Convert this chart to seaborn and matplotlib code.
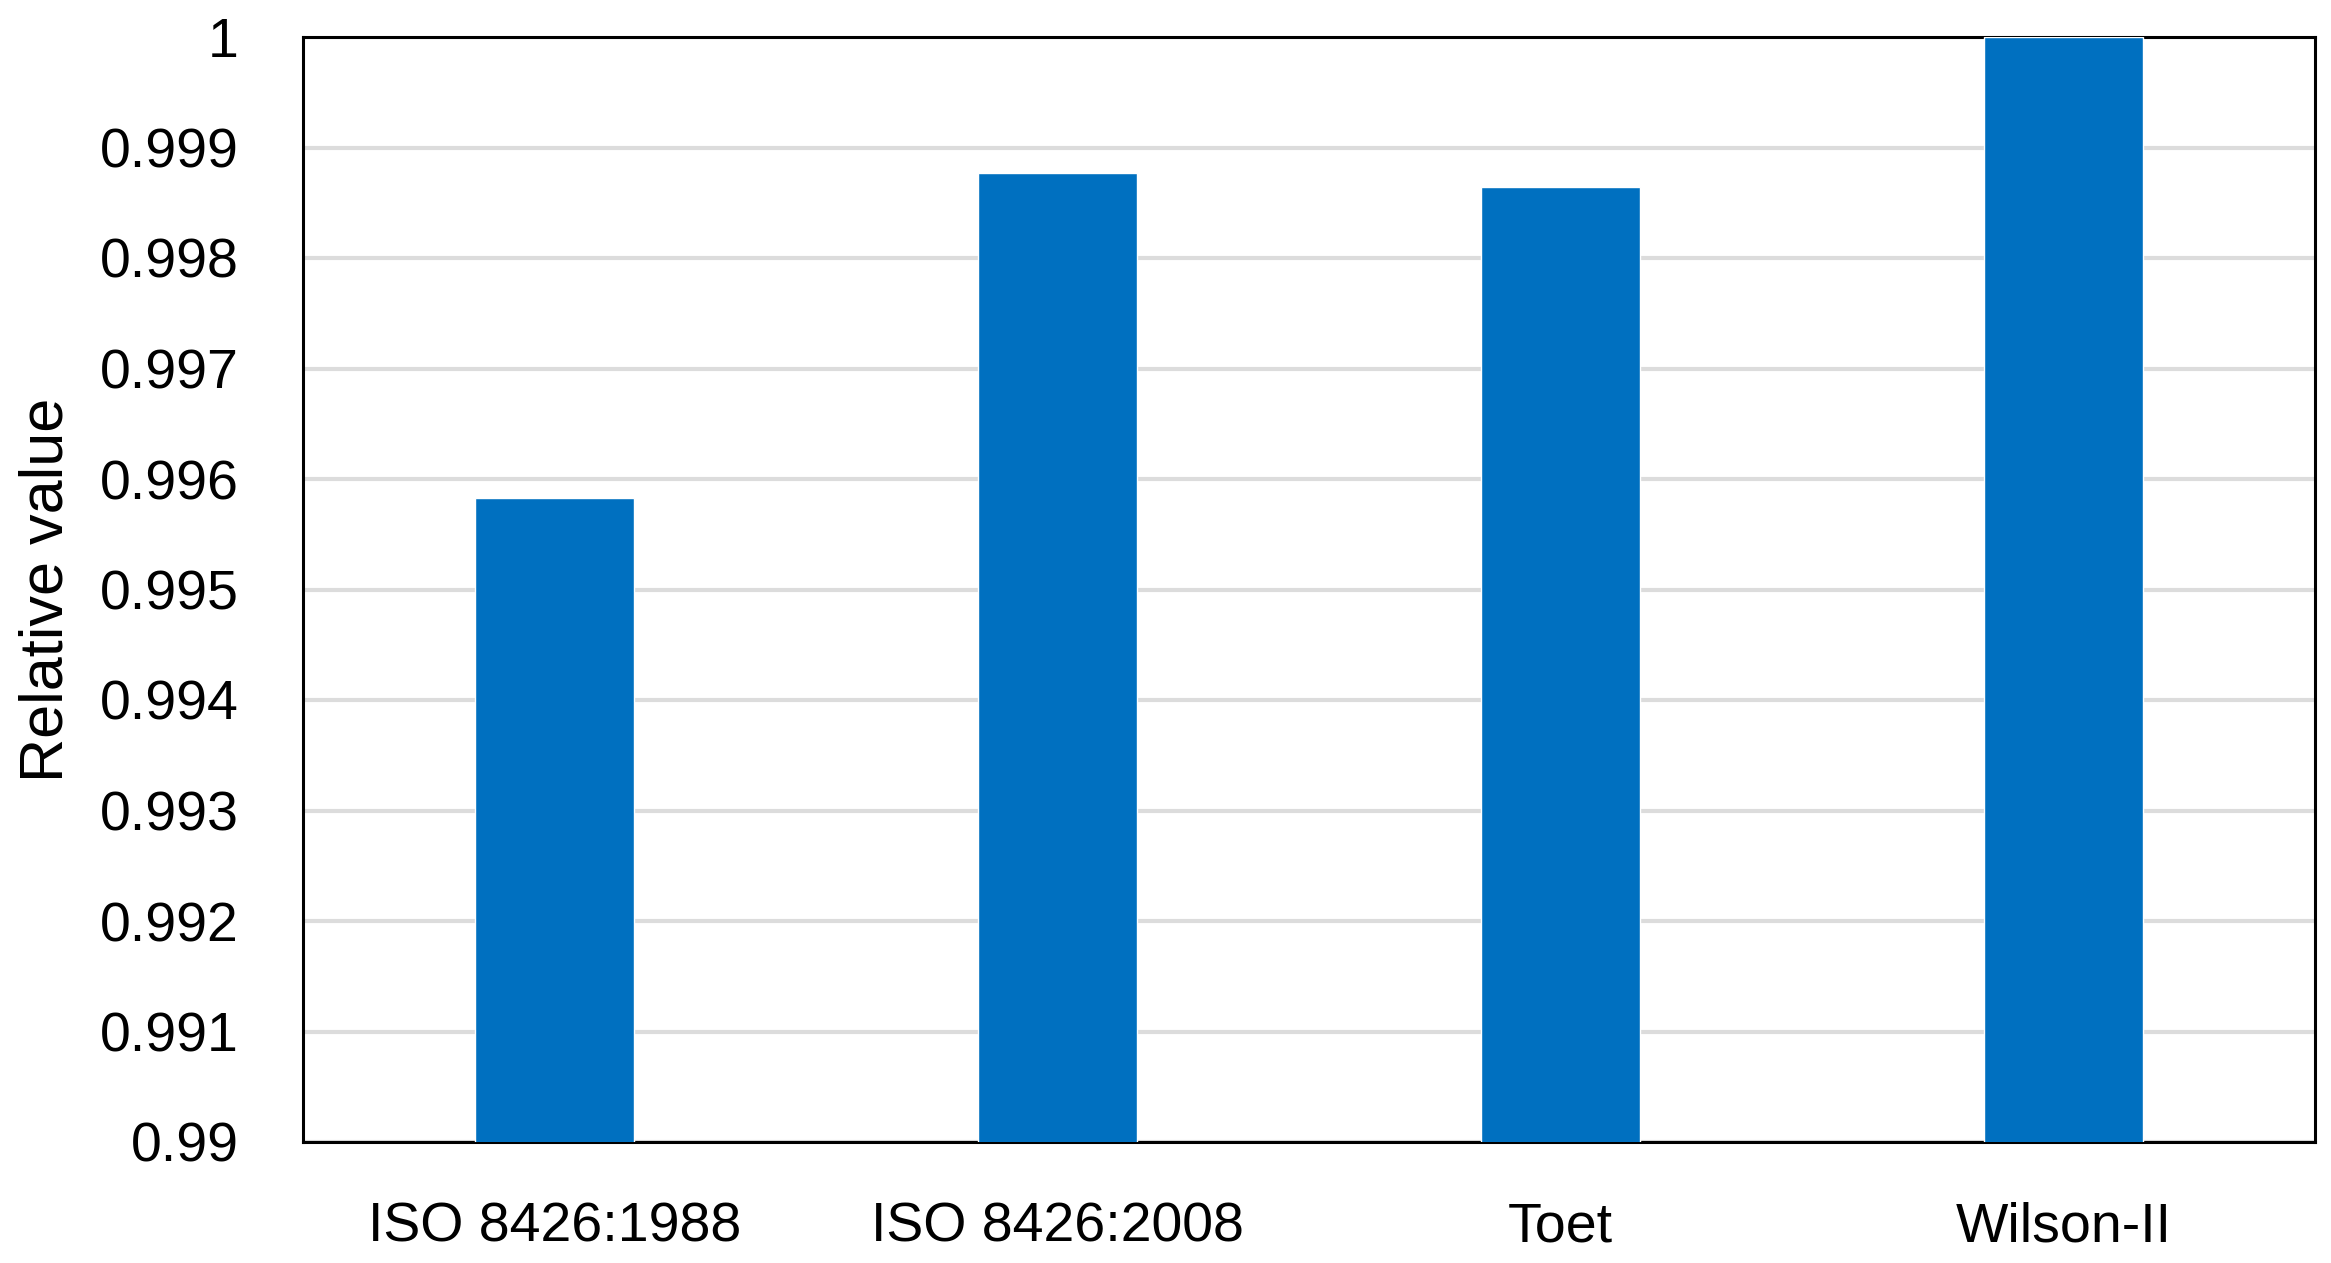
import numpy as np
import pandas as pd
import matplotlib
matplotlib.use('Agg')
import matplotlib.pyplot as plt
import seaborn as sns

methods = ['ISO 8426:1988', 'ISO 8426:2008', 'Toet', 'Wilson-II']
rel_values = [0.99583, 0.99877, 0.99864, 1.0]
ytick_vals = [0.99, 0.991, 0.992, 0.993, 0.994, 0.995, 0.996, 0.997, 0.998, 0.999, 1.0]
ytick_labels = ['0.99', '0.991', '0.992', '0.993', '0.994', '0.995',
                '0.996', '0.997', '0.998', '0.999', '1']

sns.set_style('white')
plt.rcParams['font.family'] = ['Liberation Sans', 'DejaVu Sans']
plt.rcParams['text.color'] = 'black'

df = pd.DataFrame({'method': methods, 'value': rel_values})

fig = plt.figure(figsize=(23.31, 12.63), dpi=100)
ax = fig.add_axes([303 / 2331, 1 - 1142 / 1263, (2315 - 303) / 2331, (1142 - 37) / 1263])

sns.barplot(data=df, x='method', y='value', color='#0070C0', saturation=1,
            width=0.315, ax=ax, zorder=3)

ax.set_ylim(0.99, 1.0)
ax.set_yticks(ytick_vals)
ax.set_yticklabels(ytick_labels)
ax.yaxis.grid(True, color='#dcdcdc', linewidth=3, zorder=0)
ax.set_axisbelow(True)

for s in ax.spines.values():
    s.set_visible(True)
    s.set_color('black')
    s.set_linewidth(2.2)

ax.tick_params(axis='y', labelsize=40, pad=46, length=0, labelcolor='black')
ax.tick_params(axis='x', labelsize=40, pad=43, length=0, labelcolor='black')
ax.set_xlabel('')
ax.set_ylabel('Relative value', fontsize=44, color='black', va='center')
ax.yaxis.set_label_coords(-0.127, 0.5)

fig.savefig('out.png', dpi=100, facecolor='white')
